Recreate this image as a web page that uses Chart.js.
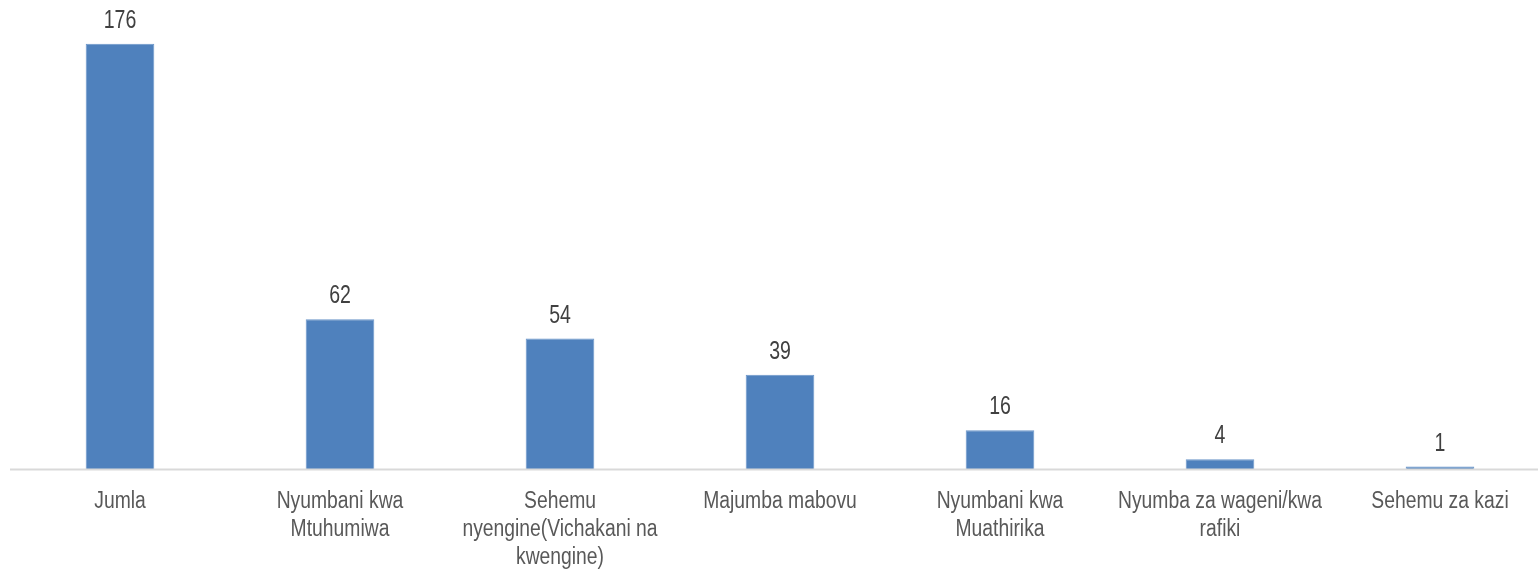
<!DOCTYPE html>
<html>
<head>
<meta charset="utf-8">
<script src="https://cdn.jsdelivr.net/npm/chart.js@4"></script>
<style>
  html, body { margin: 0; padding: 0; background: #fff; overflow: hidden; width: 1538px; height: 571px; }
  #wrap { width: 1560px; height: 571px; }
</style>
</head>
<body>
<div id="wrap"><canvas id="c" width="1560" height="571"></canvas></div>
<script>
const categories = [
  ["Jumla"],
  ["Nyumbani kwa", "Mtuhumiwa"],
  ["Sehemu", "nyengine(Vichakani na", "kwengine)"],
  ["Majumba mabovu"],
  ["Nyumbani kwa", "Muathirika"],
  ["Nyumba za wageni/kwa", "rafiki"],
  ["Sehemu za kazi"]
];
const values = [176, 62, 54, 39, 16, 4, 1];

const FONT = '"Liberation Sans", Arial, sans-serif';

function narrowText(ctx, text, x, y, sx) {
  ctx.save();
  ctx.translate(x, y);
  ctx.scale(sx, 1);
  ctx.fillText(text, 0, 0);
  ctx.restore();
}

const labelPlugin = {
  id: 'labels',
  afterDatasetsDraw(chart) {
    const ctx = chart.ctx;
    const meta = chart.getDatasetMeta(0);
    const x = chart.scales.x, y = chart.scales.y;
    const base = y.getPixelForValue(0);
    ctx.save();
    // baseline axis
    ctx.strokeStyle = '#d9d9d9';
    ctx.lineWidth = 2;
    ctx.beginPath();
    ctx.moveTo(10, base + 0.5);
    ctx.lineTo(chart.width, base + 0.5);
    ctx.stroke();
    // value labels
    ctx.font = '25px ' + FONT;
    ctx.fillStyle = '#404040';
    ctx.textAlign = 'center';
    ctx.textBaseline = 'alphabetic';
    meta.data.forEach((bar, i) => {
      narrowText(ctx, String(values[i]), bar.x, bar.y - 16, 0.78);
    });
    // category labels
    ctx.font = '23px ' + FONT;
    ctx.fillStyle = '#595959';
    categories.forEach((lines, i) => {
      const cx = x.getPixelForValue(i);
      lines.forEach((ln, j) => {
        narrowText(ctx, ln, cx, base + 39 + j * 28, 0.84);
      });
    });
    ctx.restore();
  }
};

new Chart(document.getElementById('c'), {
  type: 'bar',
  data: {
    labels: categories.map(l => l.join(' ')),
    datasets: [{
      data: values,
      backgroundColor: '#4F81BD',
      borderColor: '#6A95C9',
      borderWidth: 1,
      categoryPercentage: 1,
      barPercentage: 0.312
    }]
  },
  options: {
    responsive: false,
    animation: false,
    layout: { padding: { left: 10, right: 10, top: 10, bottom: 102 } },
    plugins: { legend: { display: false }, tooltip: { enabled: false } },
    scales: {
      x: { display: false },
      y: { display: false, min: 0, max: 190 }
    }
  },
  plugins: [labelPlugin]
});
</script>
</body>
</html>
